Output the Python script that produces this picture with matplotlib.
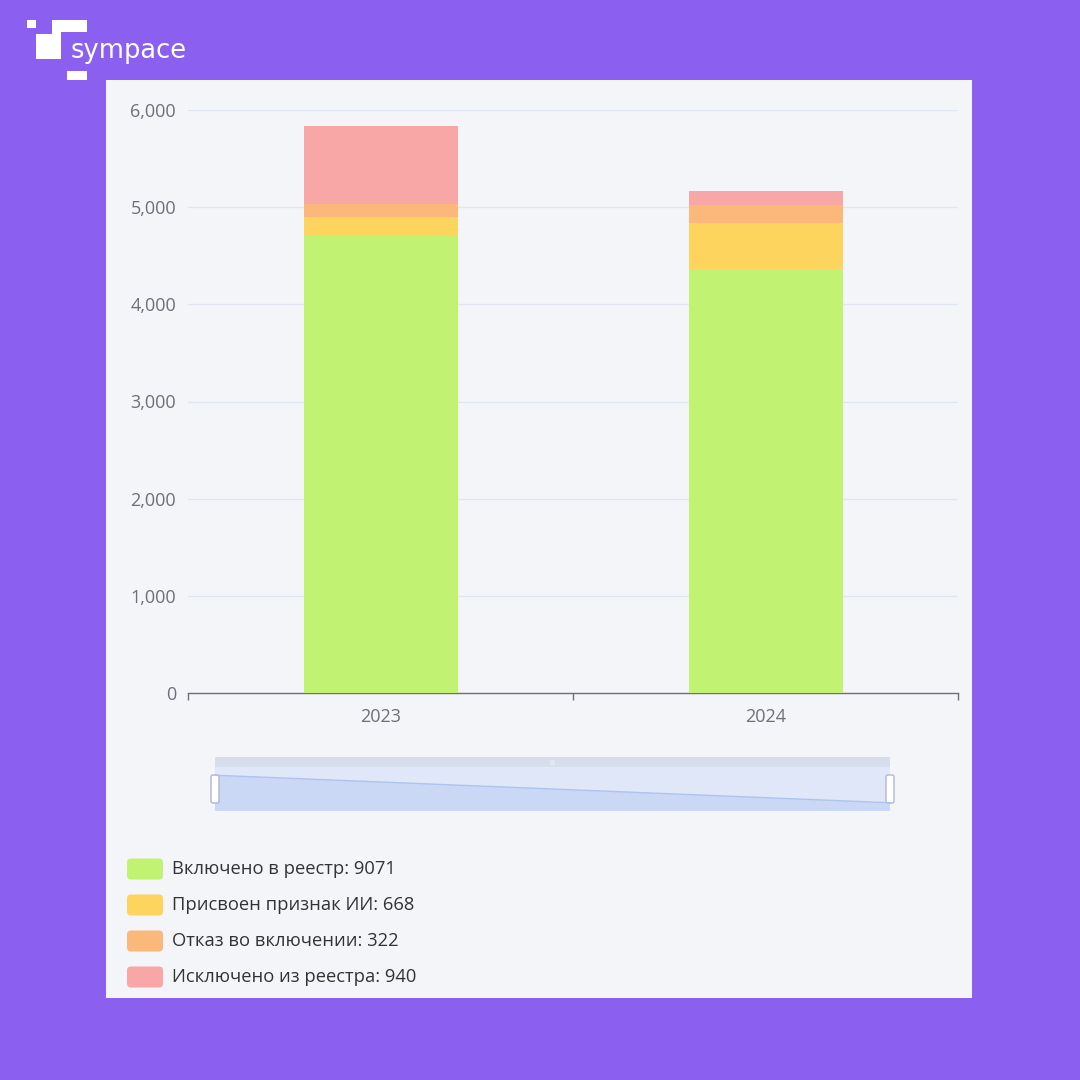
import matplotlib
matplotlib.use("Agg")
import matplotlib.pyplot as plt
from matplotlib.patches import Rectangle, FancyBboxPatch, Polygon
from matplotlib.ticker import FuncFormatter, FixedLocator

plt.rcParams['font.family'] = ['Open Sans', 'DejaVu Sans']

years = ["2023", "2024"]
series_names = ["Включено в реестр", "Присвоен признак ИИ", "Отказ во включении", "Исключено из реестра"]
included = [4712, 4359]
ai_flag = [185, 483]
refused = [140, 182]
excluded = [795, 145]
series_values = [included, ai_flag, refused, excluded]
colors = ["#C1F272", "#FDD55E", "#FBB87A", "#F8A7A6"]
y_ticks = [0, 1000, 2000, 3000, 4000, 5000, 6000]

W = H = 1080
fig = plt.figure(figsize=(10.8, 10.8), dpi=100)
fig.patch.set_facecolor("#8B5FEF")

# overlay axes in pixel coordinates
bg = fig.add_axes([0, 0, 1, 1], zorder=0)
bg.set_xlim(0, W)
bg.set_ylim(H, 0)
bg.axis("off")

# panel
bg.add_patch(Rectangle((106, 80), 866, 918, facecolor="#F4F5F9", edgecolor="none"))

# logo
for (x, y, w, h) in [(27, 20, 9, 8), (52, 20, 35, 12), (36, 34, 25, 25), (52, 20, 9, 39), (67, 71, 20, 9)]:
    bg.add_patch(Rectangle((x, y), w, h, facecolor="white", edgecolor="none"))
bg.text(71, 51, "sympace", color="white", fontsize=18.5, fontfamily="DejaVu Sans",
        va="center", ha="left")

# main axes
ax = fig.add_axes([188 / W, (H - 693) / H, (958 - 188) / W, (693 - 110) / H], zorder=2)
ax.set_facecolor("none")
x = list(range(len(years)))
bottom = [0] * len(years)
for vals, c in zip(series_values, colors):
    ax.bar(x, vals, width=0.4, bottom=bottom, color=c, edgecolor="none", zorder=3)
    bottom = [b + v for b, v in zip(bottom, vals)]

ax.set_xlim(-0.5, len(years) - 0.5)
ax.set_ylim(0, 6000)
ax.set_yticks(y_ticks)
ax.yaxis.set_major_formatter(FuncFormatter(lambda v, p: f"{int(v):,}"))
ax.tick_params(axis="y", length=0, pad=8.6, labelsize=13, labelcolor="#6E7079")
for t in y_ticks[1:]:
    ax.axhline(t, color="#E0E6F1", lw=1, zorder=1)
ax.set_xticks(x)
ax.set_xticklabels(years)
ax.tick_params(axis="x", which="major", length=0, pad=10.5, labelsize=13, labelcolor="#6E7079")
ax.xaxis.set_minor_locator(FixedLocator([-0.5, 0.5, 1.5]))
ax.tick_params(axis="x", which="minor", length=5, color="#6E7079", width=1)
for s in ["top", "right", "left"]:
    ax.spines[s].set_visible(False)
ax.spines["bottom"].set_color("#6E7079")
ax.spines["bottom"].set_linewidth(1)

# data zoom slider
sx0, sx1, sy0, sy1 = 215, 890, 757, 811
band = 10
bg.add_patch(Rectangle((sx0, sy0), sx1 - sx0, band, facecolor="#D8DDEC", edgecolor="none"))
bg.add_patch(Rectangle((sx0, sy0 + band), sx1 - sx0, sy1 - sy0 - band, facecolor="#DFE7F9", edgecolor="none"))
# data shadow from first series
lo, hi = min(included), max(included)
off = (hi - lo) * 0.3
elo, ehi = lo - off, hi + off
inner_top, inner_h = sy0 + band, sy1 - sy0 - band
n = len(included)
pts = []
for i, v in enumerate(included):
    px = sx0 + (sx1 - sx0) * i / (n - 1)
    py = inner_top + inner_h * (1 - (v - elo) / (ehi - elo))
    pts.append((px, py))
poly = pts + [(sx1, sy1), (sx0, sy1)]
bg.add_patch(Polygon(poly, closed=True, facecolor="#CAD8F6", edgecolor="none"))
bg.plot([p[0] for p in pts], [p[1] for p in pts], color="#AFC3F0", lw=1)
bg.text((sx0 + sx1) / 2, sy0 + band / 2, "|||", color="white", fontsize=4,
        ha="center", va="center", fontfamily="DejaVu Sans")
for hx in (sx0, sx1):
    bg.add_patch(FancyBboxPatch((hx - 4, 775), 8, 28, boxstyle="round,pad=0,rounding_size=2",
                                facecolor="white", edgecolor="#ACB8D1", lw=1))

# legend
totals = [sum(v) for v in series_values]
for i, (name, tot, c) in enumerate(zip(series_names, totals, colors)):
    yc = 869 + 36 * i
    bg.add_patch(FancyBboxPatch((127, yc - 10.5), 36, 21, boxstyle="round,pad=0,rounding_size=4",
                                facecolor=c, edgecolor="none"))
    bg.text(172, yc, f"{name}: {tot}", color="#333333", fontsize=13.2,
            va="center", ha="left")

fig.savefig("out.png", dpi=100, facecolor=fig.get_facecolor())
